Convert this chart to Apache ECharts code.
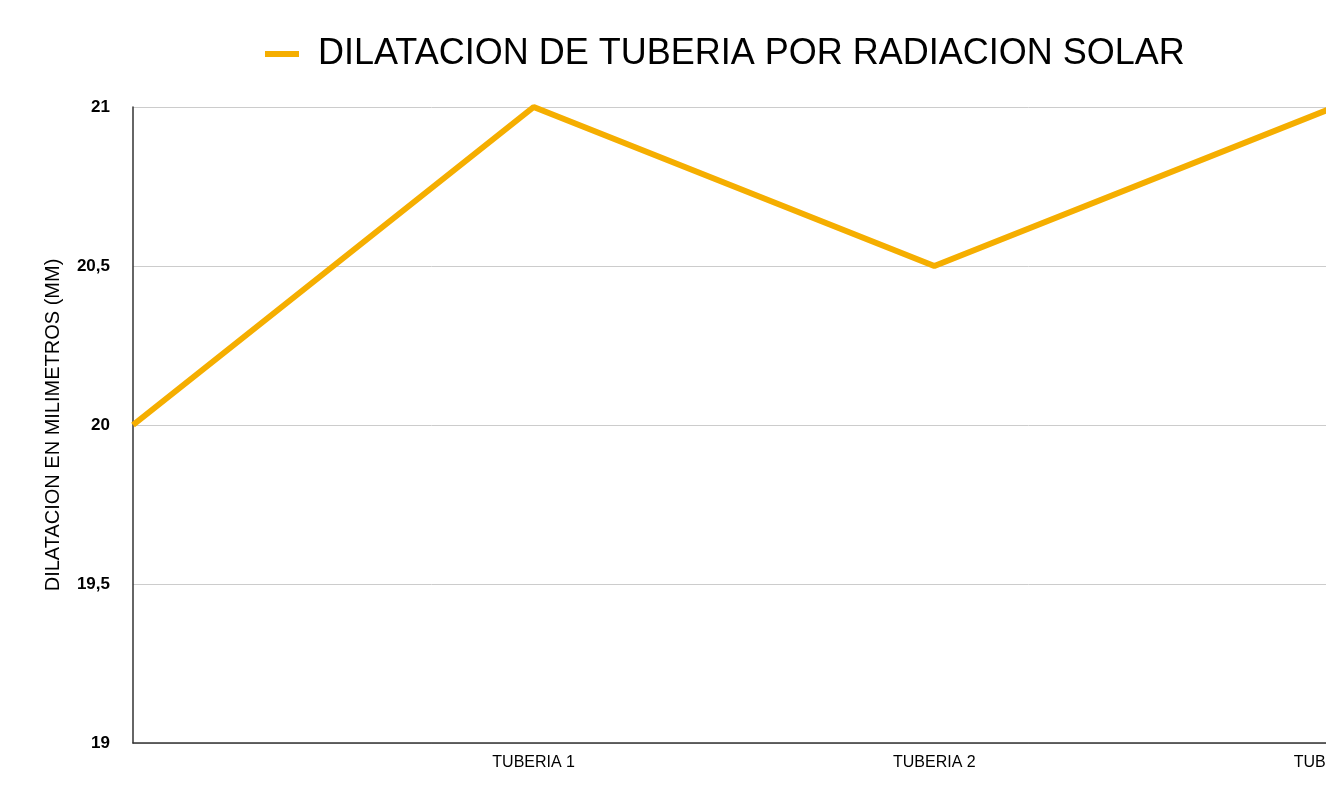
<!DOCTYPE html>
<html>
<head>
<meta charset="utf-8">
<script src="https://cdn.jsdelivr.net/npm/echarts@6/dist/echarts.min.js"></script>
<style>
html,body{margin:0;padding:0;overflow:hidden;background:#fff;}
#c{width:1326px;height:805px;}
</style>
</head>
<body>
<div id="c"></div>
<script>
var categories = ['', 'TUBERIA 1', 'TUBERIA 2', 'TUBERIA 3'];
var seriesName = 'DILATACION DE TUBERIA POR RADIACION SOLAR';
var values = [20, 21, 20.5, 21];
var yTicks = [19, 19.5, 20, 20.5, 21];
var yAxisName = 'DILATACION EN MILIMETROS (MM)';

var chart = echarts.init(document.getElementById('c'));
chart.setOption({
  backgroundColor: '#fff',
  animation: false,
  legend: {
    left: 260,
    top: 31,
    icon: 'rect',
    itemWidth: 34,
    itemHeight: 6,
    textStyle: {fontFamily: 'Liberation Sans', fontSize: 36, color: '#000', padding: [0,0,0,14]},
    data: [seriesName]
  },
  grid: {left: 133, width: 1202, top: 107, bottom: 62, outerBoundsMode: 'none', containLabel: false},
  xAxis: {
    type: 'category',
    data: categories,
    boundaryGap: false,
    axisLine: {lineStyle: {color: '#333', width: 1.5}},
    axisTick: {show: false},
    axisLabel: {fontFamily: 'Liberation Sans', fontSize: 16, color: '#000', margin: 12},
    splitLine: {show: false}
  },
  yAxis: {
    type: 'value',
    min: 19, max: 21, interval: 0.5,
    name: yAxisName,
    nameLocation: 'middle',
    nameGap: 70,
    nameTextStyle: {fontFamily: 'Liberation Sans', fontSize: 20, color: '#000'},
    axisLine: {show: true, lineStyle: {color: '#333', width: 1.5}},
    axisTick: {show: false},
    axisLabel: {
      fontFamily: 'Liberation Sans', fontSize: 17, fontWeight: 'bold', color: '#000', margin: 23,
      formatter: function (v) { return String(v).replace('.', ','); }
    },
    splitLine: {lineStyle: {color: '#ccc', width: 1}}
  },
  series: [{
    name: seriesName,
    type: 'line',
    data: values,
    symbol: 'none',
    clip: false,
    lineStyle: {color: '#f5ae00', width: 6},
    itemStyle: {color: '#f5ae00'}
  }]
});
</script>
</body>
</html>
